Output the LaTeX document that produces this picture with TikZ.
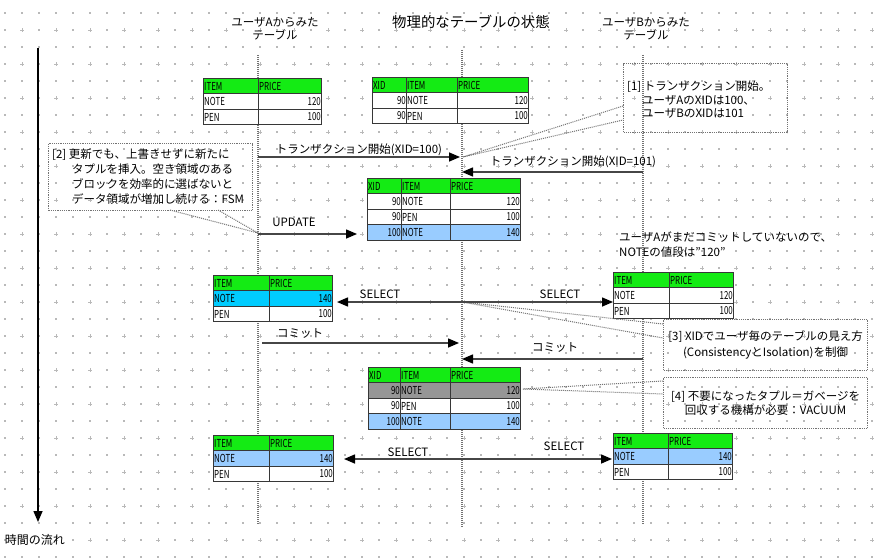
\documentclass[tikz,border=0pt]{standalone}
\usepackage{fontspec}
\setmainfont{Noto Sans CJK JP}
\newfontfamily\tabfont{Noto Sans CJK JP}[FakeStretch=0.72]
\usetikzlibrary{arrows.meta}
\definecolor{hdrg}{RGB}{20,235,20}
\definecolor{lblue}{RGB}{153,204,255}
\definecolor{cyanc}{RGB}{0,204,255}
\definecolor{grayrow}{RGB}{150,150,150}
\definecolor{gridc}{RGB}{185,185,185}
\definecolor{arrc}{RGB}{70,70,70}
\definecolor{dotc}{RGB}{115,115,115}
\definecolor{borderc}{RGB}{55,55,55}
\tikzset{
  cell/.style={draw=borderc, line width=1pt, inner sep=0pt, anchor=north west},
  tl/.style={anchor=west, inner sep=1pt, font=\tabfont\fontsize{11}{11}\selectfont},
  tr/.style={anchor=east, inner sep=1pt, font=\tabfont\fontsize{11}{11}\selectfont},
  life/.style={draw=dotc, line width=1.6pt, dash pattern=on 1pt off 1pt},
  note/.style={draw=dotc, line width=1.2pt, dash pattern=on 1.2pt off 1pt, inner sep=0pt, anchor=north west},
  wedge/.style={draw=dotc, line width=1pt, dash pattern=on 1pt off 1pt},
  msg/.style={draw=arrc, line width=1.5pt, -{Triangle[length=11pt,width=9pt,color=black]}},
  lbl/.style={font=\fontsize{11.5}{13.5}\selectfont, inner sep=0pt},
}
\def\rh{15.4}
\newcommand{\cellbox}[5]{% name, x0, y0, x1, fill
  \pgfmathsetmacro\cwd{#4-#2}%
  \node[cell, fill=#5, minimum width=\cwd pt, minimum height=\rh pt] (#1) at (#2,#3) {};%
}
% two-column tables: columns set by \itcols{x0}{xc}{x1}
\newcommand{\itcols}[3]{\def\ia{#1}\def\ib{#2}\def\ic{#3}}
\newcommand{\IHead}[2]{% name, y
  \cellbox{#1a}{\ia}{#2}{\ib}{hdrg}
  \cellbox{#1b}{\ib}{#2}{\ic}{hdrg}
  \node[tl] (#1at) at (#1a.west) {ITEM};
  \node[tl] (#1bt) at (#1b.west) {PRICE};
}
\newcommand{\IRow}[5]{% name, y, fill, item, price
  \cellbox{#1a}{\ia}{#2}{\ib}{#3}
  \cellbox{#1b}{\ib}{#2}{\ic}{#3}
  \node[tl] (#1at) at (#1a.west) {#4};
  \node[tr] (#1bt) at (#1b.east) {#5};
}
% three-column tables: \xcols{x0}{xa}{xb}{x1}
\newcommand{\xcols}[4]{\def\xa{#1}\def\xb{#2}\def\xc{#3}\def\xd{#4}}
\newcommand{\XHead}[2]{% name, y
  \cellbox{#1a}{\xa}{#2}{\xb}{hdrg}
  \cellbox{#1b}{\xb}{#2}{\xc}{hdrg}
  \cellbox{#1c}{\xc}{#2}{\xd}{hdrg}
  \node[tl] (#1at) at (#1a.west) {XID};
  \node[tl] (#1bt) at (#1b.west) {ITEM};
  \node[tl] (#1ct) at (#1c.west) {PRICE};
}
\newcommand{\XRow}[6]{% name, y, fill, xid, item, price
  \cellbox{#1a}{\xa}{#2}{\xb}{#3}
  \cellbox{#1b}{\xb}{#2}{\xc}{#3}
  \cellbox{#1c}{\xc}{#2}{\xd}{#3}
  \node[tr] (#1at) at (#1a.east) {#4};
  \node[tl] (#1bt) at (#1b.west) {#5};
  \node[tr] (#1ct) at (#1c.east) {#6};
}
\begin{document}
\begin{tikzpicture}[x=1pt,y=-1pt]
\useasboundingbox (0,0) rectangle (880,559);
\fill[white] (0,0) rectangle (880,559);
% background grid
\foreach \i in {0,...,51}{\foreach \j in {0,...,32}{%
  \ifodd\i\relax\ifodd\j\relax
    \draw[gridc, line width=0.7pt] ({5+17*\i-1.6},{13+17*\j}) -- ++(3.2,0) ({5+17*\i},{13+17*\j-1.6}) -- ++(0,3.2);
  \else
    \fill[gridc] ({5+17*\i-0.6},{13+17*\j-0.6}) rectangle ++(1.2,1.2);
  \fi\else
    \fill[gridc] ({5+17*\i-0.6},{13+17*\j-0.6}) rectangle ++(1.2,1.2);
  \fi}}
% headings
\node[lbl, align=center] (hA) at (275,28.5) {ユーザAからみた\\テーブル};
\node[font=\fontsize{14.4}{16}\selectfont, inner sep=0pt] (hP) at (471,22) {物理的なテーブルの状態};
\node[lbl, align=center] (hB) at (646,28.5) {ユーザBからみた\\テーブル};
% time axis
\coordinate (t0) at (38,48);
\coordinate (t1) at (38,522);
\draw[black, line width=1.5pt, -{Triangle[length=11pt,width=9pt]}] (t0) -- (t1);
\node[lbl, font=\fontsize{12}{14}\selectfont] (tl) at (35,540) {時間の流れ};
% lifelines
\coordinate (LAt) at (258,55); \coordinate (LAb) at (258,525);
\coordinate (LPt) at (462,50); \coordinate (LPb) at (462,527);
\coordinate (LBt) at (643,55); \coordinate (LBb) at (643,525);
\draw[life] (LAt) -- (LAb);
\draw[life] (LPt) -- (LPb);
\draw[life] (LBt) -- (LBb);
% tables
\itcols{203}{258}{321}
\IHead{A1h}{78}
\IRow{A1r1}{93.4}{white}{NOTE}{120}
\IRow{A1r2}{108.8}{white}{PEN}{100}
\xcols{372}{406}{457}{528}
\XHead{P1h}{77}
\XRow{P1r1}{92.4}{white}{90}{NOTE}{120}
\XRow{P1r2}{107.8}{white}{90}{PEN}{100}
\xcols{367}{401}{450}{520}
\XHead{P2h}{178}
\XRow{P2r1}{193.4}{white}{90}{NOTE}{120}
\XRow{P2r2}{208.8}{white}{90}{PEN}{100}
\XRow{P2r3}{224.2}{lblue}{100}{NOTE}{140}
\itcols{213}{269}{332}
\IHead{A2h}{275}
\IRow{A2r1}{290.4}{cyanc}{NOTE}{140}
\IRow{A2r2}{305.8}{white}{PEN}{100}
\itcols{613}{669}{733}
\IHead{B2h}{272}
\IRow{B2r1}{287.4}{white}{NOTE}{120}
\IRow{B2r2}{302.8}{white}{PEN}{100}
\xcols{368}{400}{450}{520}
\XHead{P3h}{367}
\XRow{P3r1}{382.4}{grayrow}{90}{NOTE}{120}
\XRow{P3r2}{397.8}{white}{90}{PEN}{100}
\XRow{P3r3}{413.2}{lblue}{100}{NOTE}{140}
\itcols{213}{269}{333}
\IHead{A3h}{435}
\IRow{A3r1}{450.4}{lblue}{NOTE}{140}
\IRow{A3r2}{465.8}{white}{PEN}{100}
\itcols{613}{668}{732}
\IHead{B3h}{433}
\IRow{B3r1}{448.4}{lblue}{NOTE}{140}
\IRow{B3r2}{463.8}{white}{PEN}{100}
% notes
\node[note, minimum width=164pt, minimum height=69pt] (n1) at (623,63) {};
\node[lbl, anchor=west, align=left] (n1t) at (627,100) {[1] トランザクション開始。\\\hspace*{15pt}ユーザAのXIDは100、\\\hspace*{15pt}ユーザBのXIDは101};
\coordinate (w1a) at (623,106); \coordinate (w1b) at (623,120); \coordinate (w1p) at (463,157);
\draw[wedge] (w1a) -- (w1p) -- (w1b);
\node[note, minimum width=204pt, minimum height=67pt] (n2) at (48,143) {};
\node[lbl, anchor=west, align=left, font=\fontsize{11.5}{15}\selectfont] (n2t) at (52,177) {[2] 更新でも、上書きせずに新たに\\\hspace*{20pt}タプルを挿入。空き領域のある\\\hspace*{20pt}ブロックを効率的に選ばないと\\\hspace*{20pt}データ領域が増加し続ける：FSM};
\coordinate (w2a) at (170,210); \coordinate (w2b) at (218,210); \coordinate (w2p) at (258,233);
\draw[wedge] (w2a) -- (w2p) -- (w2b);
\node[note, lbl, minimum width=204pt, minimum height=51pt, align=center, font=\fontsize{11.5}{16}\selectfont] (n3) at (663,319) {[3] XIDでユーザ毎のテーブルの見え方\\(ConsistencyとIsolation)を制御};
\coordinate (w3a) at (663,324); \coordinate (w3b) at (663,338); \coordinate (w3p) at (462,302);
\draw[wedge] (w3a) -- (w3p) -- (w3b);
\node[note, lbl, minimum width=204pt, minimum height=51pt, align=center, font=\fontsize{11.5}{13.5}\selectfont] (n4) at (663,377) {[4] 不要になったタプル＝ガベージを\\回収する機構が必要：VACUUM};
\coordinate (w4a) at (663,381); \coordinate (w4b) at (663,394); \coordinate (w4p) at (523,389);
\draw[wedge] (w4a) -- (w4p) -- (w4b);
% side remark
\node[lbl, anchor=west, align=left, font=\fontsize{11.5}{15}\selectfont] (rem) at (619,244.5) {ユーザAがまだコミットしていないので、\\NOTEの値段は\symbol{34}120\symbol{34}};
% messages
\coordinate (mA1s) at (258,157); \coordinate (mA1e) at (460,157);
\draw[msg] (mA1s) -- (mA1e);
\node[lbl] (lA1) at (359,150) {トランザクション開始(XID=100)};
\coordinate (mB1s) at (643,172); \coordinate (mB1e) at (462,172);
\draw[msg] (mB1s) -- (mB1e);
\node[lbl] (lB1) at (573,162) {トランザクション開始(XID=101)};
\coordinate (mUs) at (258,234); \coordinate (mUe) at (357,234);
\draw[msg] (mUs) -- (mUe);
\node[lbl] (lU) at (294,222) {UPDATE};
\coordinate (mS1s) at (462,302); \coordinate (mS1a) at (337,302); \coordinate (mS1b) at (613,302);
\draw[msg] (mS1s) -- (mS1a);
\draw[msg] (mS1s) -- (mS1b);
\node[lbl] (lS1a) at (380,294) {SELECT};
\node[lbl] (lS1b) at (560,294) {SELECT};
\coordinate (mCAs) at (262,343); \coordinate (mCAe) at (459,343);
\draw[msg] (mCAs) -- (mCAe);
\node[lbl] (lCA) at (300,333) {コミット};
\coordinate (mCBs) at (643,359); \coordinate (mCBe) at (462,359);
\draw[msg] (mCBs) -- (mCBe);
\node[lbl] (lCB) at (555,347) {コミット};
\coordinate (mS2s) at (462,459); \coordinate (mS2a) at (344,459); \coordinate (mS2b) at (612,459);
\draw[msg] (mS2s) -- (mS2a);
\draw[msg] (mS2s) -- (mS2b);
\node[lbl] (lS2a) at (408,452) {SELECT};
\node[lbl] (lS2b) at (564,446) {SELECT};
\end{tikzpicture}
\end{document}
